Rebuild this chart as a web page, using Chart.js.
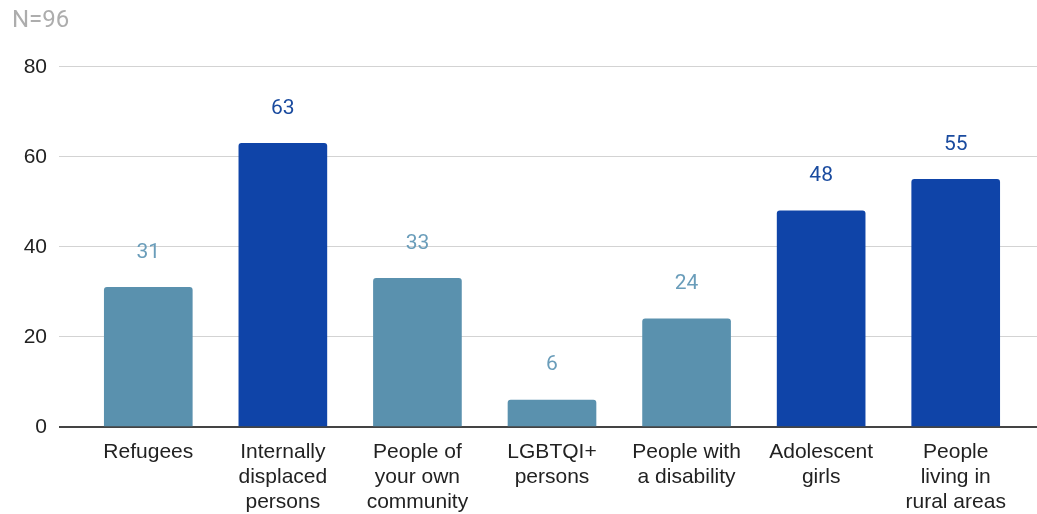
<!DOCTYPE html>
<html>
<head>
<meta charset="utf-8">
<script src="https://cdn.jsdelivr.net/npm/chart.js@4.4.1/dist/chart.umd.min.js"></script>
<style>
  html, body { margin: 0; padding: 0; background: #fff; }
  #wrap { width: 1037px; height: 514px; position: relative; }
</style>
</head>
<body>
<div id="wrap"><canvas id="groupsChart"></canvas></div>
<script>
// ── DATA ────────────────────────────────────────────────────────────────────────

const groups = [
  'Refugees',
  ['Internally', 'displaced', 'persons'],
  ['People of', 'your own', 'community'],
  ['LGBTQI+', 'persons'],
  ['People with', 'a disability'],
  ['Adolescent', 'girls'],
  ['People', 'living in', 'rural areas']
];
const counts = [31, 63, 33, 6, 24, 48, 55];
const highlighted = [false, true, false, false, false, true, true];
const yTicks = [0, 20, 40, 60, 80];
const sampleNote = 'N=96';

// ── STYLE ───────────────────────────────────────────────────────────────────────

const LIGHT = '#5a91ae';
const DARK = '#0f44a8';
const LIGHT_LABEL = '#6a9dba';
const DARK_LABEL = '#1a4b9f';
const GRID = '#d3d3d3';
const BASE = '#444';
const AXIS_FONT = { family: '"Liberation Sans", Arial, sans-serif', size: 21 };

// value labels sit a fixed distance above each bar
const valueLabels = {
  id: 'valueLabels',
  afterDatasetsDraw(chart) {
    const ctx = chart.ctx;
    const meta = chart.getDatasetMeta(0);
    ctx.save();
    ctx.font = '21px Roboto, sans-serif';
    ctx.textAlign = 'center';
    ctx.textBaseline = 'middle';
    meta.data.forEach((bar, i) => {
      ctx.fillStyle = highlighted[i] ? DARK_LABEL : LIGHT_LABEL;
      ctx.fillText(String(counts[i]), bar.x, bar.y - 35);
    });
    ctx.restore();
  }
};

const gridColor = c => (c.tick && c.tick.value === 0 ? BASE : GRID);
const gridWidth = c => (c.tick && c.tick.value === 0 ? 2 : 1);

new Chart(document.getElementById('groupsChart'), {
  type: 'bar',
  data: {
    labels: groups,
    datasets: [{
      data: counts,
      backgroundColor: highlighted.map(h => h ? DARK : LIGHT),
      barThickness: 88,
      borderRadius: { topLeft: 3, topRight: 3 },
      borderSkipped: 'start'
    }]
  },
  options: {
    responsive: true,
    maintainAspectRatio: false,
    animation: false,
    layout: { padding: { left: 12, top: 0, right: 0, bottom: 0 } },
    plugins: {
      legend: { display: false },
      tooltip: { enabled: false },
      title: {
        display: true,
        text: sampleNote,
        align: 'start',
        color: '#adadad',
        font: { family: 'Roboto, sans-serif', size: 24, weight: 'normal' },
        padding: { top: 7, bottom: 31 }
      }
    },
    scales: {
      x: {
        offset: true,
        grid: { display: false },
        border: { display: false },
        ticks: {
          color: '#222',
          font: { ...AXIS_FONT, lineHeight: 1.19 },
          padding: 5,
          maxRotation: 0,
          autoSkip: false
        },
        afterFit: s => { s.height = 87; }
      },
      y: {
        position: 'left',
        min: 0,
        max: 80,
        afterBuildTicks: s => { s.ticks = yTicks.map(v => ({ value: v })); },
        grid: { color: gridColor, lineWidth: gridWidth, tickLength: 22, tickColor: gridColor, tickWidth: gridWidth },
        border: { display: false },
        ticks: { color: '#222', font: AXIS_FONT, padding: 12 },
        afterFit: s => { s.width = 69; }
      },
      // right-hand stub so the grid runs to the edge
      yEdge: {
        position: 'right',
        min: 0,
        max: 80,
        afterBuildTicks: s => { s.ticks = yTicks.map(v => ({ value: v })); },
        grid: {
          drawOnChartArea: false,
          color: gridColor,
          lineWidth: gridWidth,
          tickLength: 14,
          tickColor: gridColor,
          tickWidth: gridWidth
        },
        border: { display: false },
        ticks: { display: false },
        afterFit: s => { s.width = 14; }
      }
    }
  },
  plugins: [valueLabels]
});
</script>
</body>
</html>
